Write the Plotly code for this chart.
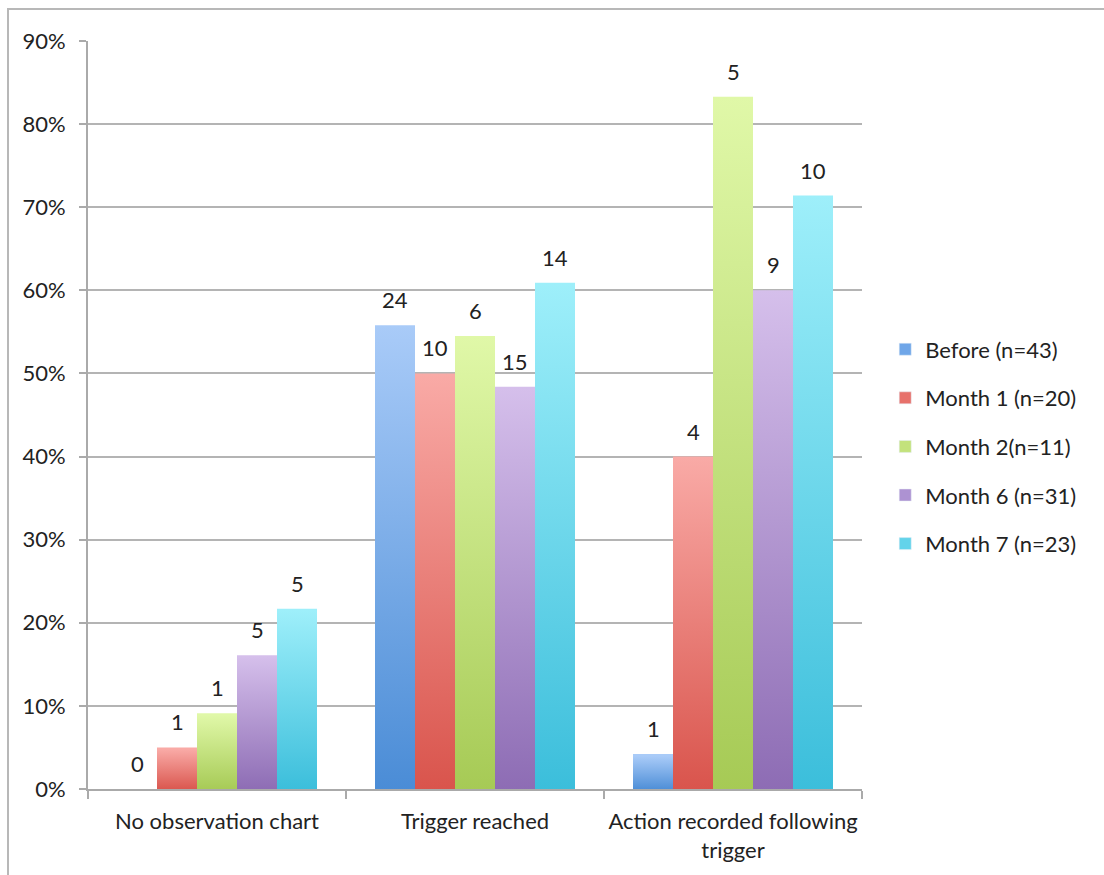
import plotly.graph_objects as go

# Categories and series
categories = ["No observation chart", "Trigger reached", "Action recorded following<br>trigger"]
series_names = ["Before (n=43)", "Month 1 (n=20)", "Month 2(n=11)", "Month 6 (n=31)", "Month 7 (n=23)"]

# Proportions (fractions) per series, per category
before = [0.0, 0.558, 0.042]
month1 = [0.05, 0.50, 0.40]
month2 = [0.091, 0.545, 0.833]
month6 = [0.161, 0.484, 0.60]
month7 = [0.217, 0.609, 0.714]

# Counts shown above each bar
before_n = [0, 24, 1]
month1_n = [1, 10, 4]
month2_n = [1, 6, 5]
month6_n = [5, 15, 9]
month7_n = [5, 14, 10]

values = [before, month1, month2, month6, month7]
counts = [before_n, month1_n, month2_n, month6_n, month7_n]

# (top colour, bottom colour) for each series' vertical gradient
gradients = [
    ("#a9cbf8", "#4a8cd6"),
    ("#f9aaa6", "#d9544c"),
    ("#e0f8a8", "#a6ca55"),
    ("#d5bfeb", "#8d6cb4"),
    ("#9eeffa", "#3bbedb"),
]
legend_colors = ["#6fa6e8", "#e7716b", "#c3e27c", "#ad92d2", "#63d3ea"]

FONT = "Lato, Open Sans, sans-serif"
FS = 22

bar_w = 40 / 258
n_series = len(series_names)

fig = go.Figure()

annotations = []
for i, (vals, cnts, (top, bottom)) in enumerate(zip(values, counts, gradients)):
    offset = (i - (n_series - 1) / 2) * bar_w
    for j, v in enumerate(vals):
        xc = j + offset
        x0, x1 = xc - bar_w / 2, xc + bar_w / 2
        if v > 0:
            fig.add_trace(go.Scatter(
                x=[x0, x0, x1, x1, x0],
                y=[0, v, v, 0, 0],
                mode="lines",
                line=dict(width=0),
                fill="toself",
                fillgradient=dict(type="vertical", colorscale=[[0, bottom], [1, top]],
                                  start=0, stop=v),
                showlegend=False,
                hoverinfo="skip",
            ))
        annotations.append(dict(
            x=xc, y=v, xref="x", yref="y", text=str(cnts[j]), showarrow=False,
            yanchor="bottom", yshift=10, font=dict(size=FS, color="#222222"),
        ))
    # legend entry
    fig.add_trace(go.Bar(
        x=[None], y=[None], name=series_names[i],
        marker=dict(color=legend_colors[i]), legendgroup=series_names[i],
    ))

fig.update_layout(
    width=1104, height=875,
    margin=dict(l=88, r=242, t=41, b=84),
    paper_bgcolor="white", plot_bgcolor="white",
    font=dict(family=FONT, size=FS, color="#222222"),
    annotations=annotations,
    showlegend=True,
    legend=dict(x=1.03, y=0.458, xanchor="left", yanchor="middle",
                font=dict(size=FS), tracegroupgap=17, traceorder="grouped",
                bgcolor="rgba(0,0,0,0)"),
    xaxis=dict(
        range=[-0.5, 2.5], tickvals=[0, 1, 2], ticktext=categories,
        ticks="", showgrid=False, zeroline=False,
        showline=True, linecolor="#aaaaaa", linewidth=2,
        minor=dict(tick0=-0.5, dtick=1, ticks="outside", ticklen=8,
                   tickcolor="#aaaaaa", tickwidth=2, showgrid=False),
        tickfont=dict(size=FS), ticklabelstandoff=12,
    ),
    yaxis=dict(
        range=[0, 0.9], dtick=0.1, tickformat=".0%",
        ticks="outside", ticklen=7, tickcolor="#aaaaaa", tickwidth=2,
        showline=True, linecolor="#aaaaaa", linewidth=2,
        showgrid=True, gridcolor="#b4b4b4", gridwidth=1.5, zeroline=False,
        tickfont=dict(size=FS), ticklabelstandoff=9,
    ),
    shapes=[dict(
        type="rect", xref="paper", yref="paper",
        x0=(8 - 88) / 774, x1=(1110 - 88) / 774,
        y0=(791 - 880) / 750, y1=(791 - 9) / 750,
        line=dict(color="#b8b8b8", width=2), fillcolor="rgba(0,0,0,0)", layer="below",
    )],
)

fig.write_html("out.html")
